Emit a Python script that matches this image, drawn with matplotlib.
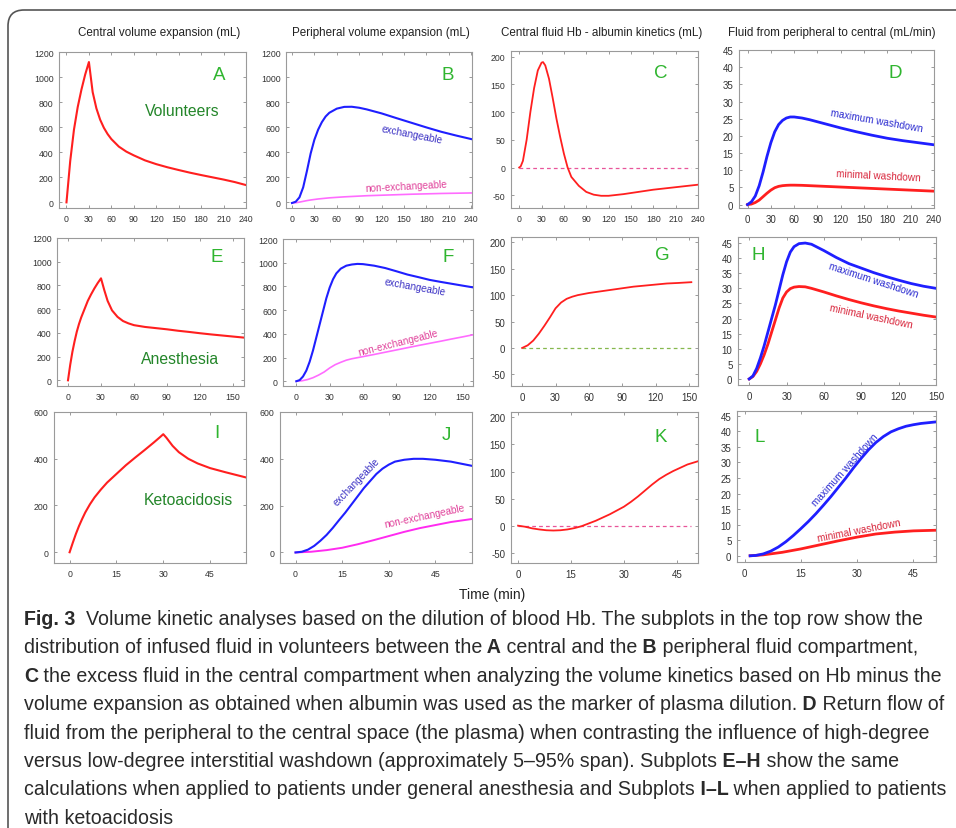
"""Volume kinetic analyses (Fig. 3): 4 x 3 grid of kinetic curves with caption."""
import matplotlib
matplotlib.use("Agg")
import matplotlib.pyplot as plt
from matplotlib.patches import FancyBboxPatch
from matplotlib.transforms import IdentityTransform

plt.rcParams["font.family"] = ["Liberation Sans", "DejaVu Sans"]
plt.rcParams["axes.unicode_minus"] = False

W, H = 956, 829

# ---- data ----
# A: volunteers, central volume expansion (mL)
A_T = [0, 5, 10, 15, 20, 25, 30, 35, 40, 45, 50, 55, 60, 70, 80, 90, 105, 120, 135, 150, 165, 180, 195, 210, 225, 240]
A_V = [0, 330, 580, 760, 900, 1020, 1120, 880, 750, 660, 595, 545, 505, 445, 405, 375, 335, 305, 280, 258, 237, 218, 200, 182, 162, 138]

# B: volunteers, peripheral volume expansion (mL)
B_T = [0, 5, 10, 15, 20, 25, 30, 35, 40, 45, 50, 60, 70, 80, 90, 100, 120, 140, 160, 180, 200, 220, 240]
B_EXCH = [-5, 5, 40, 120, 250, 390, 500, 580, 640, 685, 715, 748, 762, 763, 755, 742, 710, 672, 635, 598, 563, 533, 505]
B_NONEX = [-5, -3, 2, 8, 14, 19, 23, 27, 30, 33, 36, 40, 44, 47, 50, 53, 57, 61, 65, 68, 71, 73, 75]

# C: volunteers, Hb - albumin central fluid (mL)
C_T = [0, 2, 5, 10, 15, 20, 25, 30, 32, 35, 40, 45, 50, 55, 60, 65, 70, 80, 90, 100, 110, 120, 140, 160, 180, 200, 220, 240]
C_V = [0, 2, 12, 50, 100, 143, 175, 189, 190, 184, 160, 125, 88, 55, 25, 0, -17, -33, -44, -49, -51, -51, -48, -44, -40, -37, -34, -31]

# D: volunteers, peripheral -> central flow (mL/min)
D_T = [0, 5, 10, 15, 20, 25, 30, 35, 40, 45, 50, 55, 60, 70, 80, 90, 100, 120, 140, 160, 180, 200, 220, 240]
D_MAX = [0, 0.8, 2.5, 5.5, 9.5, 14, 18, 21.2, 23.3, 24.5, 25.2, 25.5, 25.5, 25.2, 24.7, 24.1, 23.5, 22.3, 21.2, 20.2, 19.3, 18.6, 18, 17.4]
D_MIN = [0, 0.15, 0.6, 1.3, 2.3, 3.3, 4.2, 4.9, 5.3, 5.5, 5.6, 5.65, 5.65, 5.6, 5.5, 5.4, 5.3, 5.1, 4.9, 4.7, 4.5, 4.3, 4.1, 3.9]

# E: anesthesia, central volume expansion (mL)
E_T = [0, 2, 4, 6, 8, 10, 12, 15, 18, 21, 24, 27, 30, 33, 36, 40, 45, 50, 55, 60, 70, 80, 90, 100, 110, 120, 130, 140, 150, 160]
E_V = [0, 130, 240, 330, 410, 475, 530, 600, 670, 725, 775, 820, 860, 760, 670, 590, 535, 500, 480, 465, 450, 440, 430, 418, 408, 397, 387, 378, 369, 360]

# F: anesthesia, peripheral volume expansion (mL)
F_T = [0, 3, 6, 9, 12, 15, 18, 21, 24, 27, 30, 33, 36, 40, 45, 50, 55, 60, 70, 80, 90, 100, 110, 120, 130, 140, 150, 159]
F_EXCH = [0, 10, 40, 90, 165, 260, 370, 480, 590, 700, 790, 860, 910, 950, 975, 985, 990, 988, 975, 955, 928, 900, 878, 855, 838, 822, 806, 792]
F_T2 = [0, 5, 10, 15, 20, 25, 30, 35, 40, 45, 50, 60, 70, 80, 90, 100, 110, 120, 130, 140, 150, 159]
F_NONEX = [0, 4, 14, 30, 52, 78, 112, 140, 160, 178, 190, 208, 226, 245, 264, 283, 302, 320, 338, 357, 375, 392]

# G: anesthesia, Hb - albumin central fluid (mL)
G_T = [0, 5, 10, 15, 20, 25, 30, 35, 40, 45, 50, 60, 70, 80, 90, 100, 110, 120, 130, 140, 152]
G_V = [0, 5, 14, 27, 42, 58, 75, 86, 93, 97, 100, 104, 107, 110, 113, 116, 118, 120, 122, 123, 124.5]

# H: anesthesia, peripheral -> central flow (mL/min)
H_T = [0, 3, 6, 9, 12, 15, 18, 21, 24, 27, 30, 33, 36, 40, 45, 50, 60, 70, 80, 90, 100, 110, 120, 130, 140, 150]
H_MAX = [0, 1, 3.5, 7, 11, 15.5, 20, 24.5, 29.5, 34.5, 38.8, 42, 43.8, 44.8, 45, 44.6, 42.5, 40.2, 38.2, 36.7, 35.2, 33.9, 32.7, 31.6, 30.7, 30.0]
H_MIN = [0, 0.8, 2.5, 5, 8, 11.5, 15.5, 19.5, 23.5, 26.8, 28.8, 29.9, 30.4, 30.6, 30.5, 30, 28.8, 27.5, 26.3, 25.2, 24.2, 23.3, 22.5, 21.8, 21.1, 20.5]

# I: ketoacidosis, central volume expansion (mL)
I_T = [0, 1, 2, 3, 4, 5, 6.5, 8, 10, 12, 15, 18, 21, 24, 27, 29, 30, 31, 33, 35, 38, 41, 45, 50, 56.5]
I_V = [0, 40, 78, 112, 142, 170, 205, 235, 268, 298, 335, 372, 405, 437, 470, 493, 505, 490, 455, 428, 400, 380, 360, 342, 320]

# J: ketoacidosis, peripheral volume expansion (mL)
J_T = [0, 2, 4, 6, 8, 10, 12, 14, 16, 18, 20, 22, 24, 26, 28, 30, 32, 35, 38, 41, 45, 50, 56.8]
J_EXCH = [0, 3, 12, 28, 50, 75, 105, 138, 170, 205, 240, 275, 305, 335, 358, 375, 388, 396, 400, 400, 396, 388, 370]
J_T2 = [0, 5, 10, 15, 20, 25, 30, 35, 40, 45, 50, 56.8]
J_NONEX = [0, 3, 10, 20, 35, 52, 70, 88, 104, 117, 130, 143]

# K: ketoacidosis, Hb - albumin central fluid (mL)
K_T = [0, 2, 4, 6, 8, 10, 12, 14, 16, 18, 20, 22, 24, 26, 28, 30, 32, 34, 36, 38, 40, 42, 44, 46, 48, 51]
K_V = [0, -2, -5, -7, -8.5, -9, -8.5, -7, -4.5, -1, 4, 9, 15, 21, 28, 35, 44, 54, 65, 76, 86, 94, 101, 107, 113, 119]

# L: ketoacidosis, peripheral -> central flow (mL/min)
L_T = [1.5, 3, 5, 7, 9, 11, 13, 15, 17, 19, 21, 23, 25, 27, 29, 31, 33, 35, 37, 39, 41, 43, 45, 47, 51]
L_MAX = [0, 0.1, 0.6, 1.5, 2.8, 4.5, 6.5, 8.7, 11, 13.5, 16.2, 19, 22, 25, 28.2, 31.2, 34, 36.4, 38.3, 39.8, 40.8, 41.6, 42.1, 42.5, 43]
L_T2 = [1.5, 5, 10, 15, 20, 25, 30, 35, 40, 45, 51]
L_MIN = [0, 0.3, 1.1, 2.2, 3.5, 4.8, 6, 7, 7.6, 8, 8.2]

HEADERS = ["Central volume expansion (mL)", "Peripheral volume expansion (mL)",
           "Central fluid Hb - albumin kinetics (mL)", "Fluid from peripheral to central (mL/min)"]
GROUPS = ["Volunteers", "Anesthesia", "Ketoacidosis"]

CAPTION = [
    [("Fig. 3", "bold"), ("  Volume kinetic analyses based on the dilution of blood Hb. The subplots in the top row show the", "normal")],
    [("distribution of infused fluid in volunteers between the", "normal"), (" A", "bold"),
     (" central and the", "normal"), (" B", "bold"), (" peripheral fluid compartment,", "normal")],
    [("C", "bold"), (" the excess fluid in the central compartment when analyzing the volume kinetics based on Hb minus the", "normal")],
    [("volume expansion as obtained when albumin was used as the marker of plasma dilution.", "normal"),
     (" D", "bold"), (" Return flow of", "normal")],
    [("fluid from the peripheral to the central space (the plasma) when contrasting the influence of high-degree", "normal")],
    [("versus low-degree interstitial washdown (approximately 5\u201395% span). Subplots", "normal"),
     (" E\u2013H", "bold"), (" show the same", "normal")],
    [("calculations when applied to patients under general anesthesia and Subplots", "normal"),
     (" I\u2013L", "bold"), (" when applied to patients", "normal")],
    [("with ketoacidosis", "normal")],
]

RED = "#ff1f1f"
BLUE = "#1f1fff"
MAGENTA = "#ff6cff"
LETTER_GREEN = "#2fb52f"
GROUP_GREEN = "#24862a"


def fxy(x, y):
    return x / W, 1 - y / H


def ax_at(fig, x0, y0, x1, y1):
    ax = fig.add_axes([x0 / W, 1 - y1 / H, (x1 - x0) / W, (y1 - y0) / H])
    for s in ax.spines.values():
        s.set_color("#9a9a9a")
        s.set_linewidth(0.8)
    ax.tick_params(direction="in", top=True, right=True, length=2.5, width=0.6,
                   color="#8a8a8a", labelsize=6.3, labelcolor="#333333", pad=4)
    return ax


def label(fig, x, y, s, color, size=7.2, rot=0):
    fx, fy = fxy(x, y)
    fig.text(fx, fy, s, color=color, fontsize=size, rotation=rot,
             rotation_mode="anchor", ha="center", va="center")


fig = plt.figure(figsize=(W / 100, H / 100), dpi=100)
fig.patch.set_facecolor("white")

# outer rounded frame, cut by the right and bottom edges
frame = FancyBboxPatch((8, -40), 1000, 829 - 11 + 40, boxstyle="round,pad=0,rounding_size=16",
                       transform=IdentityTransform(), facecolor="none", edgecolor="#555555", linewidth=1.2)
fig.add_artist(frame)

for x, s in zip([159, 381, 602, 832], HEADERS):
    fx, fy = fxy(x, 33)
    fig.text(fx, fy, s, ha="center", va="center", fontsize=8.4, color="#222222")

# ---- row 1: volunteers ----
ax = ax_at(fig, 59, 53, 246, 209)
ax.plot(A_T, A_V, color=RED, lw=1.5)
ax.set_xlim(-10, 240); ax.set_ylim(-45, 1200)
ax.set_xticks(range(0, 241, 30)); ax.set_yticks(range(0, 1201, 200))

ax = ax_at(fig, 286, 53, 472, 209)
ax.plot(B_T, B_NONEX, color=MAGENTA, lw=1.2)
ax.plot(B_T, B_EXCH, color=BLUE, lw=1.5)
ax.set_xlim(-8, 241); ax.set_ylim(-45, 1200)
ax.set_xticks(range(0, 241, 30)); ax.set_yticks(range(0, 1201, 200))

ax = ax_at(fig, 511, 52, 698, 209)
ax.plot([0, 230], [0, 0], color="#e8559a", lw=0.9, ls=(0, (3, 2.5)))
ax.plot(C_T, C_V, color=RED, lw=1.3)
ax.set_xlim(-11, 240); ax.set_ylim(-73, 210)
ax.set_xticks(range(0, 241, 30)); ax.set_yticks(range(-50, 201, 50))

ax = ax_at(fig, 739, 51, 934, 209)
ax.plot(D_T, D_MIN, color=RED, lw=2)
ax.plot(D_T, D_MAX, color=BLUE, lw=2)
ax.set_xlim(-11, 240); ax.set_ylim(-1, 45)
ax.set_xticks(range(0, 241, 30)); ax.set_yticks(range(0, 46, 5))
ax.tick_params(labelsize=7)

# ---- row 2: anesthesia ----
ax = ax_at(fig, 57, 239, 244, 387)
ax.plot(E_T, E_V, color=RED, lw=1.5)
ax.set_xlim(-10, 160); ax.set_ylim(-48, 1200)
ax.set_xticks(range(0, 151, 30)); ax.set_yticks(range(0, 1201, 200))

ax = ax_at(fig, 283, 240, 473, 387)
ax.plot(F_T2, F_NONEX, color=MAGENTA, lw=1.2)
ax.plot(F_T, F_EXCH, color=BLUE, lw=1.5)
ax.set_xlim(-12, 159); ax.set_ylim(-40, 1200)
ax.set_xticks(range(0, 151, 30)); ax.set_yticks(range(0, 1201, 200))

ax = ax_at(fig, 511, 238, 698, 387)
ax.plot([0, 152], [0, 0], color="#86b84e", lw=0.9, ls=(0, (3, 2.5)))
ax.plot(G_T, G_V, color=RED, lw=1.3)
ax.set_xlim(-10, 158); ax.set_ylim(-72, 210)
ax.set_xticks(range(0, 151, 30)); ax.set_yticks(range(-50, 201, 50))
ax.tick_params(labelsize=7)

ax = ax_at(fig, 738, 238, 936, 386)
ax.plot(H_T, H_MIN, color=RED, lw=2)
ax.plot(H_T, H_MAX, color=BLUE, lw=2)
ax.set_xlim(-9, 150); ax.set_ylim(-2, 47)
ax.set_xticks(range(0, 151, 30)); ax.set_yticks(range(0, 46, 5))
ax.tick_params(labelsize=7)

# ---- row 3: ketoacidosis ----
ax = ax_at(fig, 54, 413, 246, 564)
ax.plot(I_T, I_V, color=RED, lw=1.5)
ax.set_xlim(-5, 56.5); ax.set_ylim(-46, 600)
ax.set_xticks([0, 15, 30, 45]); ax.set_yticks(range(0, 601, 200))

ax = ax_at(fig, 280, 413, 472, 564)
ax.plot(J_T2, J_NONEX, color="#ff2bf0", lw=1.4)
ax.plot(J_T, J_EXCH, color=BLUE, lw=1.5)
ax.set_xlim(-5, 56.8); ax.set_ylim(-45, 600)
ax.set_xticks([0, 15, 30, 45]); ax.set_yticks(range(0, 601, 200))

ax = ax_at(fig, 511, 413, 698, 564)
ax.plot([0, 49], [0, 0], color="#e8559a", lw=0.9, ls=(0, (3, 2.5)))
ax.plot(K_T, K_V, color=RED, lw=1.3)
ax.set_xlim(-2, 51); ax.set_ylim(-69, 210)
ax.set_xticks([0, 15, 30, 45]); ax.set_yticks(range(-50, 201, 50))
ax.tick_params(labelsize=7)

ax = ax_at(fig, 737, 412, 936, 563)
ax.plot(L_T2, L_MIN, color=RED, lw=2)
ax.plot(L_T, L_MAX, color=BLUE, lw=2)
ax.set_xlim(-2, 51); ax.set_ylim(-2, 46.5)
ax.set_xticks([0, 15, 30, 45]); ax.set_yticks(range(0, 46, 5))
ax.tick_params(labelsize=7)

# panel letters
letters = "ABCDEFGHIJKL"
letter_pos = [(219, 75), (448, 75), (661, 74), (895, 74),
              (217, 258), (448, 258), (662, 256), (758, 256),
              (217, 434), (446, 436), (661, 438), (760, 438)]
for s, (x, y) in zip(letters, letter_pos):
    label(fig, x, y, s, LETTER_GREEN, size=13.5)

for s, (x, y) in zip(GROUPS, [(182, 112), (180, 360), (188, 501)]):
    label(fig, x, y, s, GROUP_GREEN, size=11.3)

# curve annotations
label(fig, 412, 135, "exchangeable", "#3a30c4", rot=-11)
label(fig, 406, 187, "non-exchangeable", "#e0409a", rot=3)
label(fig, 877, 121, "maximum washdown", "#2a2ad0", rot=-10)
label(fig, 878, 176, "minimal washdown", "#d8243a", rot=-3)
label(fig, 415, 287, "exchangeable", "#3a30c4", rot=-10)
label(fig, 398, 343, "non-exchangeable", "#e0409a", rot=14)
label(fig, 873, 281, "maximum washdown", "#2a2ad0", rot=-18)
label(fig, 871, 317, "minimal washdown", "#d8243a", rot=-12)
label(fig, 357, 482, "exchangeable", "#3a30c4", rot=46)
label(fig, 424, 517, "non-exchangeable", "#e0409a", rot=12)
label(fig, 845, 470, "maximum washdown", "#2a2ad0", rot=48)
label(fig, 859, 531, "minimal washdown", "#d8243a", rot=11)

fx, fy = fxy(492, 595)
fig.text(fx, fy, "Time (min)", ha="center", va="center", fontsize=10, color="#222222")

# caption, written segment by segment so bold pieces sit inline
renderer = fig.canvas.get_renderer()


def draw_line(segs, x, y, size):
    texts = []
    for s, weight in segs:
        fx, fy = fxy(x, y)
        t = fig.text(fx, fy, s, fontsize=size, fontweight=weight, color="#2a2a2a",
                     ha="left", va="baseline")
        x += t.get_window_extent(renderer).width
        texts.append(t)
    return texts, x


# size the caption so its widest line ends near the right edge of the frame
widest = 0
for segs in CAPTION:
    probe, x_end = draw_line(segs, 24, 625, 13)
    for t in probe:
        t.remove()
    widest = max(widest, x_end - 24)
cap_size = 13 * (940 - 24) / widest
for i, segs in enumerate(CAPTION):
    draw_line(segs, 24, 625 + i * 28.4, cap_size)

fig.savefig("out.png", dpi=100)
